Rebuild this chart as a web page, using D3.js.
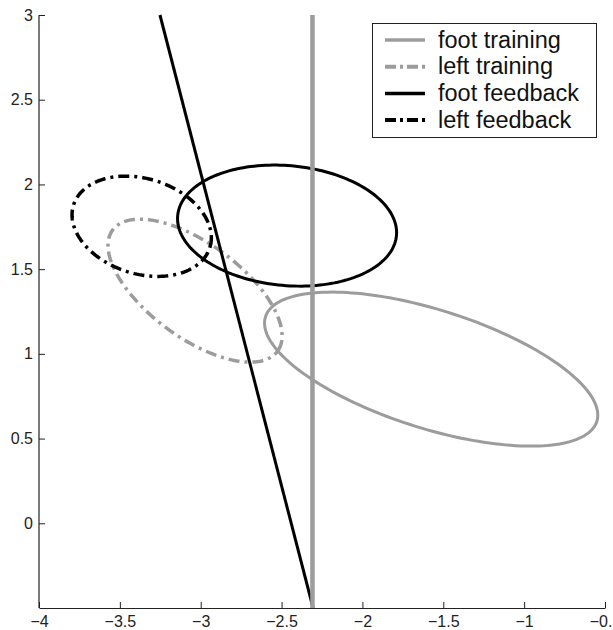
<!DOCTYPE html>
<html>
<head>
<meta charset="utf-8">
<script src="https://cdn.jsdelivr.net/npm/d3@7"></script>
<style>
body { margin: 0; background: #fff; }
text { font-family: "Liberation Sans", Arial, Helvetica, sans-serif; }
</style>
</head>
<body>
<svg id="chart" width="613" height="630"></svg>
<script>
// tick values
var xTicks = [-4, -3.5, -3, -2.5, -2, -1.5, -1, -0.5];
var yTicks = [0, 0.5, 1, 1.5, 2, 2.5, 3];

// legend entries
var seriesNames = ["foot training", "left training", "foot feedback", "left feedback"];

// ellipses: centre, half axes (data units), rotation (deg)
var ellipseCx    = [-1.575, -3.035, -2.466, -3.365];
var ellipseCy    = [0.91, 1.373, 1.757, 1.753];
var ellipseA     = [1.07, 0.623, 0.679, 0.44];
var ellipseB     = [0.351, 0.282, 0.354, 0.282];
var ellipseAngle = [-16.6, -34.4, -4.8, -15.4];

// boundary lines: [x, y] at top and bottom
var footTrainingLine = [[-2.309, 3.0], [-2.309, -0.5]];
var footFeedbackLine = [[-3.252, 3.0], [-2.305, -0.5]];

var svg = d3.select("#chart");
var gray = "#9c9c9c";
var styles = [
  {stroke: gray, width: 3, dash: null},
  {stroke: gray, width: 3.5, dash: "11 5 3 5"},
  {stroke: "#000", width: 3, dash: null},
  {stroke: "#000", width: 3.5, dash: "11 5 3 5"}
];

var xScale = d3.scaleLinear().domain([-4, -0.5]).range([39, 605]);
var yScale = d3.scaleLinear().domain([-0.5, 3]).range([608, 15]);

var line = d3.line()
  .x(function(d) { return xScale(d[0]); })
  .y(function(d) { return yScale(d[1]); });

function ellipsePoints(i) {
  var pts = [];
  var th = ellipseAngle[i] * Math.PI / 180;
  for (var k = 0; k < 180; k++) {
    var t = k / 180 * 2 * Math.PI;
    var u = ellipseA[i] * Math.cos(t), v = ellipseB[i] * Math.sin(t);
    pts.push([ellipseCx[i] + u * Math.cos(th) - v * Math.sin(th),
              ellipseCy[i] + u * Math.sin(th) + v * Math.cos(th)]);
  }
  return pts;
}

// ellipses
svg.append("g").selectAll("path")
  .data(seriesNames)
  .enter()
  .append("path")
  .attr("d", function(d, i) { return line(ellipsePoints(i)) + "Z"; })
  .attr("fill", "none")
  .attr("stroke", function(d, i) { return styles[i].stroke; })
  .attr("stroke-width", function(d, i) { return styles[i].width; })
  .attr("stroke-dasharray", function(d, i) { return styles[i].dash; });

// lines
svg.append("path").attr("d", line(footFeedbackLine))
  .attr("fill", "none").attr("stroke", "#000").attr("stroke-width", 3);
svg.append("path").attr("d", line(footTrainingLine))
  .attr("fill", "none").attr("stroke", gray).attr("stroke-width", 4.5);

// axes
function fmt(d) { return d < 0 ? "\u2212" + Math.abs(d) : String(d); }

var xAxis = d3.axisBottom(xScale).tickValues(xTicks).tickFormat(fmt)
  .tickSizeInner(-6).tickSizeOuter(0).tickPadding(8);
var yAxis = d3.axisLeft(yScale).tickValues(yTicks).tickFormat(fmt)
  .tickSizeInner(-6).tickSizeOuter(0).tickPadding(6);

var gx = svg.append("g").attr("transform", "translate(0,608)").call(xAxis);
var gy = svg.append("g").attr("transform", "translate(39,0)").call(yAxis);
[gx, gy].forEach(function(g) {
  g.selectAll("text").attr("font-size", "16px").attr("font-family", null).attr("fill", "#222");
  g.selectAll("line").attr("stroke", "#222");
  g.select(".domain").attr("stroke", "#222").attr("stroke-width", 1.2);
});
gy.select(".domain").attr("d", "M0," + yScale(3) + "V" + yScale(-0.5));

// legend
var legend = svg.append("g");
legend.append("rect")
  .attr("x", 372.5).attr("y", 23.5).attr("width", 224).attr("height", 114)
  .attr("fill", "#fff").attr("stroke", "#222").attr("stroke-width", 1);

var rows = legend.selectAll("g.row")
  .data(seriesNames)
  .enter()
  .append("g")
  .attr("class", "row")
  .attr("transform", function(d, i) { return "translate(0," + (40 + i * 26.7) + ")"; });

rows.append("line")
  .attr("x1", 385).attr("x2", 425)
  .attr("stroke", function(d, i) { return styles[i].stroke; })
  .attr("stroke-width", function(d, i) { return styles[i].width + 0.5; })
  .attr("stroke-dasharray", function(d, i) { return styles[i].dash ? "11 4 3 4" : null; });

rows.append("text")
  .attr("x", 438).attr("y", 7.5)
  .attr("font-size", "23.5px")
  .attr("fill", "#111")
  .text(function(d) { return d; });
</script>
</body>
</html>
